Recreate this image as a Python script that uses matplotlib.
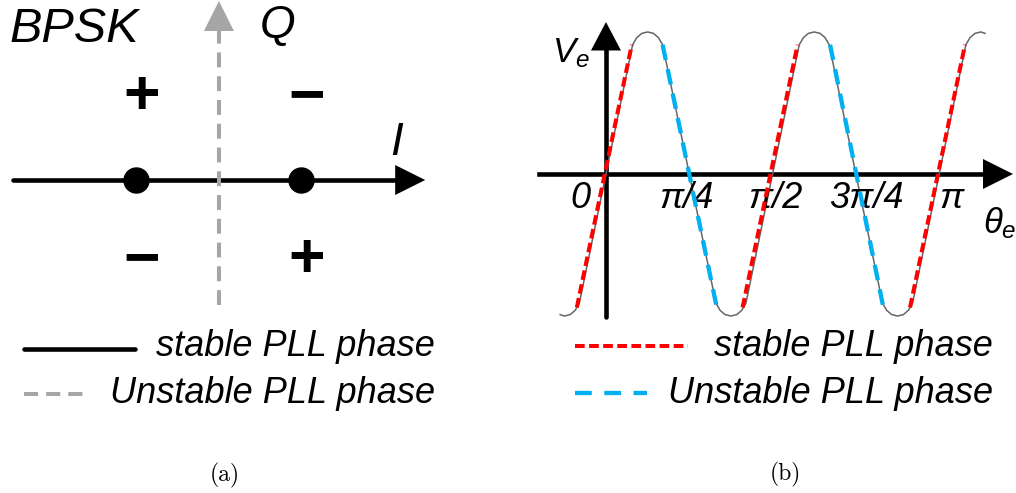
import matplotlib
matplotlib.use('Agg')
import matplotlib.pyplot as plt

plt.rcParams['font.family'] = ['Liberation Sans', 'DejaVu Sans']
plt.rcParams['mathtext.fontset'] = 'custom'
plt.rcParams['mathtext.it'] = 'Liberation Sans:italic'
plt.rcParams['mathtext.rm'] = 'Liberation Sans'

# ---- panel (a): BPSK constellation on the I/Q plane ----
const_i = [-0.5, 0.5]
const_q = [0.0, 0.0]
sign_text = ['+', '\u2212', '\u2212', '+']
sign_i = [-0.47, 0.53, -0.47, 0.53]
sign_q = [0.50, 0.50, -0.49, -0.49]

# ---- panel (b): phase detector output Ve vs theta_e (theta in units of pi/4) ----
wave_u = [-0.55, -0.50, -0.43, -0.37, -0.32,
          0.32, 0.37, 0.43, 0.50, 0.57, 0.63, 0.68,
          1.32, 1.37, 1.43, 1.50, 1.57, 1.63, 1.68,
          2.32, 2.37, 2.43, 2.50, 2.57, 2.63, 2.68,
          3.32, 3.37, 3.43, 3.50, 3.57, 3.63, 3.68,
          4.32, 4.37, 4.43, 4.50, 4.55]
wave_v = [-0.99, -1.0, -0.99, -0.96, -0.91,
          0.91, 0.96, 0.99, 1.0, 0.99, 0.96, 0.91,
          -0.91, -0.96, -0.99, -1.0, -0.99, -0.96, -0.91,
          0.91, 0.96, 0.99, 1.0, 0.99, 0.96, 0.91,
          -0.91, -0.96, -0.99, -1.0, -0.99, -0.96, -0.91,
          0.91, 0.96, 0.99, 1.0, 0.99]
stable_u = [[-0.35, 0.31], [1.64, 2.30], [3.65, 4.31]]
stable_v = [-0.94, 0.91]
unstable_u = [[0.68, 1.33], [2.69, 3.33]]
unstable_v = [0.91, -0.94]
tick_labels = ['0', '\u03c0/4', '\u03c0/2', '3\u03c0/4', '\u03c0']
tick_label_u = [-0.31, 0.97, 2.03, 3.13, 4.15]

RED = '#ff0000'
BLUE = '#00b0f0'
GREY = '#a6a6a6'


def head(ax, tip, tail, color, length=21.6, width=10.8):
    # filled arrow head only, shaft is drawn separately
    ax.annotate('', xy=tip, xytext=tail,
                arrowprops=dict(arrowstyle='-|>,head_length=%g,head_width=%g' % (length, width),
                                mutation_scale=1, lw=0, color=color,
                                shrinkA=0, shrinkB=0))


fig = plt.figure(figsize=(10.16, 4.93), dpi=100)
axA = fig.add_axes([0, 0, 0.5, 1])
axB = fig.add_axes([0.5, 0, 0.5, 1])
for ax in (axA, axB):
    ax.axis('off')

# panel (a)
axA.set_xlim(-1.327, 1.752)
axA.set_ylim(-1.897, 1.091)
axA.plot([-1.25, 1.12], [0, 0], color='black', lw=3.3, solid_capstyle='round')
head(axA, (1.25, 0), (0, 0), 'black')
axA.plot([0, 0], [-0.76, 0.93], color=GREY, lw=2.9, dashes=(3.7, 2.2))
head(axA, (0, 1.085), (0, 0), GREY)
axA.plot(const_i, const_q, 'o', color='black', ms=18, zorder=5)
for t, x, y in zip(sign_text, sign_i, sign_q):
    axA.text(x, y, t, ha='center', va='center', fontsize=45, fontweight='bold')
axA.text(-1.267, 0.836, 'BPSK', style='italic', fontsize=35, va='baseline')
axA.text(0.248, 0.861, 'Q', style='italic', fontsize=33, va='baseline')
axA.text(1.04, 0.152, 'I', style='italic', fontsize=33, va='baseline')

# legend (a)
axA.plot([-1.18, -0.51], [-1.024, -1.024], color='black', lw=3.3, solid_capstyle='round')
axA.plot([-1.18, -0.78], [-1.297, -1.297], color=GREY, lw=2.9, dashes=(3.5, 2.0))
axA.text(1.309, -1.067, 'stable PLL phase', ha='right', va='baseline', style='italic', fontsize=26)
axA.text(1.309, -1.352, 'Unstable PLL phase', ha='right', va='baseline', style='italic', fontsize=26)
axA.text(0.036, -1.788, '(a)', ha='center', va='center', fontsize=17, family='cmr10')

# panel (b)
axB.set_xlim(-1.176, 4.922)
axB.set_ylim(-2.246, 1.225)
axB.plot([-0.804, 4.6], [0, 0], color='black', lw=3.3)
head(axB, (4.886, 0), (0, 0), 'black')
axB.plot([0, 0], [-1.007, 0.9], color='black', lw=3.3, solid_capstyle='round')
head(axB, (0, 1.07), (0, 0), 'black', length=20.5)
axB.plot(wave_u, wave_v, color='#666666', lw=1.1, zorder=3)
for seg in stable_u:
    axB.plot(seg, stable_v, color=RED, lw=2.9, dashes=(2.4, 1.1), zorder=4)
for seg in unstable_u:
    axB.plot(seg, unstable_v, color=BLUE, lw=3.1, dashes=(3.6, 2.2), zorder=4)
for t, x in zip(tick_labels, tick_label_u):
    axB.text(x, -0.239, t, ha='center', va='baseline', style='italic', fontsize=26)
axB.text(-0.648, 0.789, r'$V_e$', fontsize=25, va='baseline')
axB.text(4.526, -0.415, r'$\theta_e$', fontsize=25, va='baseline')

# legend (b)
axB.plot([-0.372, 0.984], [-1.211, -1.211], color=RED, lw=2.9, dashes=(2.4, 1.1))
axB.plot([-0.372, 0.492], [-1.542, -1.542], color=BLUE, lw=3.1, dashes=(3.9, 2.9))
axB.text(4.646, -1.282, 'stable PLL phase', ha='right', va='baseline', style='italic', fontsize=26)
axB.text(4.646, -1.613, 'Unstable PLL phase', ha='right', va='baseline', style='italic', fontsize=26)
axB.text(2.15, -2.113, '(b)', ha='center', va='center', fontsize=17, family='cmr10')

fig.savefig('out.png', dpi=100)
